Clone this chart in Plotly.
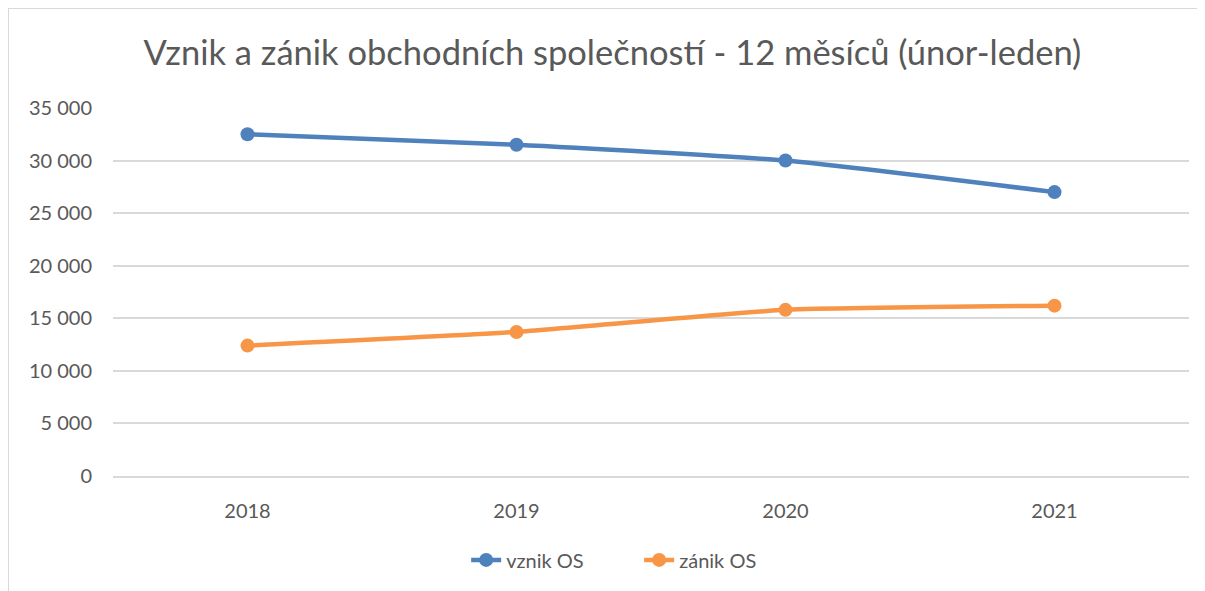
import plotly.graph_objects as go

years = ["2018", "2019", "2020", "2021"]
vznik = [32500, 31500, 30000, 27000]
zanik = [12400, 13700, 15800, 16200]
y_ticks = [0, 5000, 10000, 15000, 20000, 25000, 30000, 35000]
y_labels = ["0", "5 000", "10 000", "15 000", "20 000", "25 000", "30 000", "35 000"]

FONT = "Lato"
fig = go.Figure()
fig.add_trace(go.Scatter(x=years, y=vznik, name="vznik OS", mode="lines+markers",
                         line=dict(color="#4F81BD", width=4.5, shape="spline", smoothing=0.5),
                         marker=dict(size=14, color="#4F81BD")))
fig.add_trace(go.Scatter(x=years, y=zanik, name="zánik OS", mode="lines+markers",
                         line=dict(color="#F79646", width=4.5, shape="spline", smoothing=0.5),
                         marker=dict(size=14, color="#F79646")))

fig.update_layout(
    width=1205, height=591,
    margin=dict(l=105, r=24, t=100, b=123),
    paper_bgcolor="white", plot_bgcolor="white",
    font=dict(family=FONT, color="#595959", size=20),
    title=dict(text="Vznik a zánik obchodních společností - 12 měsíců (únor-leden)",
               x=0.5016, xanchor="center", y=0.924, yanchor="middle",
               font=dict(family=FONT, size=34.5, color="#595959")),
    showlegend=True,
    legend=dict(orientation="h", x=0.489, xanchor="center", y=-0.228, yanchor="middle",
                entrywidth=128, entrywidthmode="pixels",
                font=dict(family=FONT, size=20, color="#595959")),
    xaxis=dict(type="category", range=[-0.5, 3.5], showgrid=False,
               showline=True, linecolor="#D9D9D9", linewidth=1.5,
               zeroline=False, ticks="", ticklabelstandoff=16, tickfont=dict(size=20)),
    yaxis=dict(range=[0, 35000], tickvals=y_ticks, ticktext=y_labels,
               showgrid=True, gridcolor="#D9D9D9", gridwidth=1.5, zeroline=False,
               showline=False, ticks="", ticklabelstandoff=20, tickfont=dict(size=20)),
    shapes=[
        dict(type="line", xref="paper", yref="paper", x0=-0.0976, x1=1.03, y0=1.2717, y1=1.2717,
             line=dict(color="#D9D9D9", width=2)),
        dict(type="line", xref="paper", yref="paper", x0=-0.0976, x1=-0.0976, y0=1.2717, y1=-0.35,
             line=dict(color="#D9D9D9", width=2)),
    ],
)

fig.write_html("out.html")
